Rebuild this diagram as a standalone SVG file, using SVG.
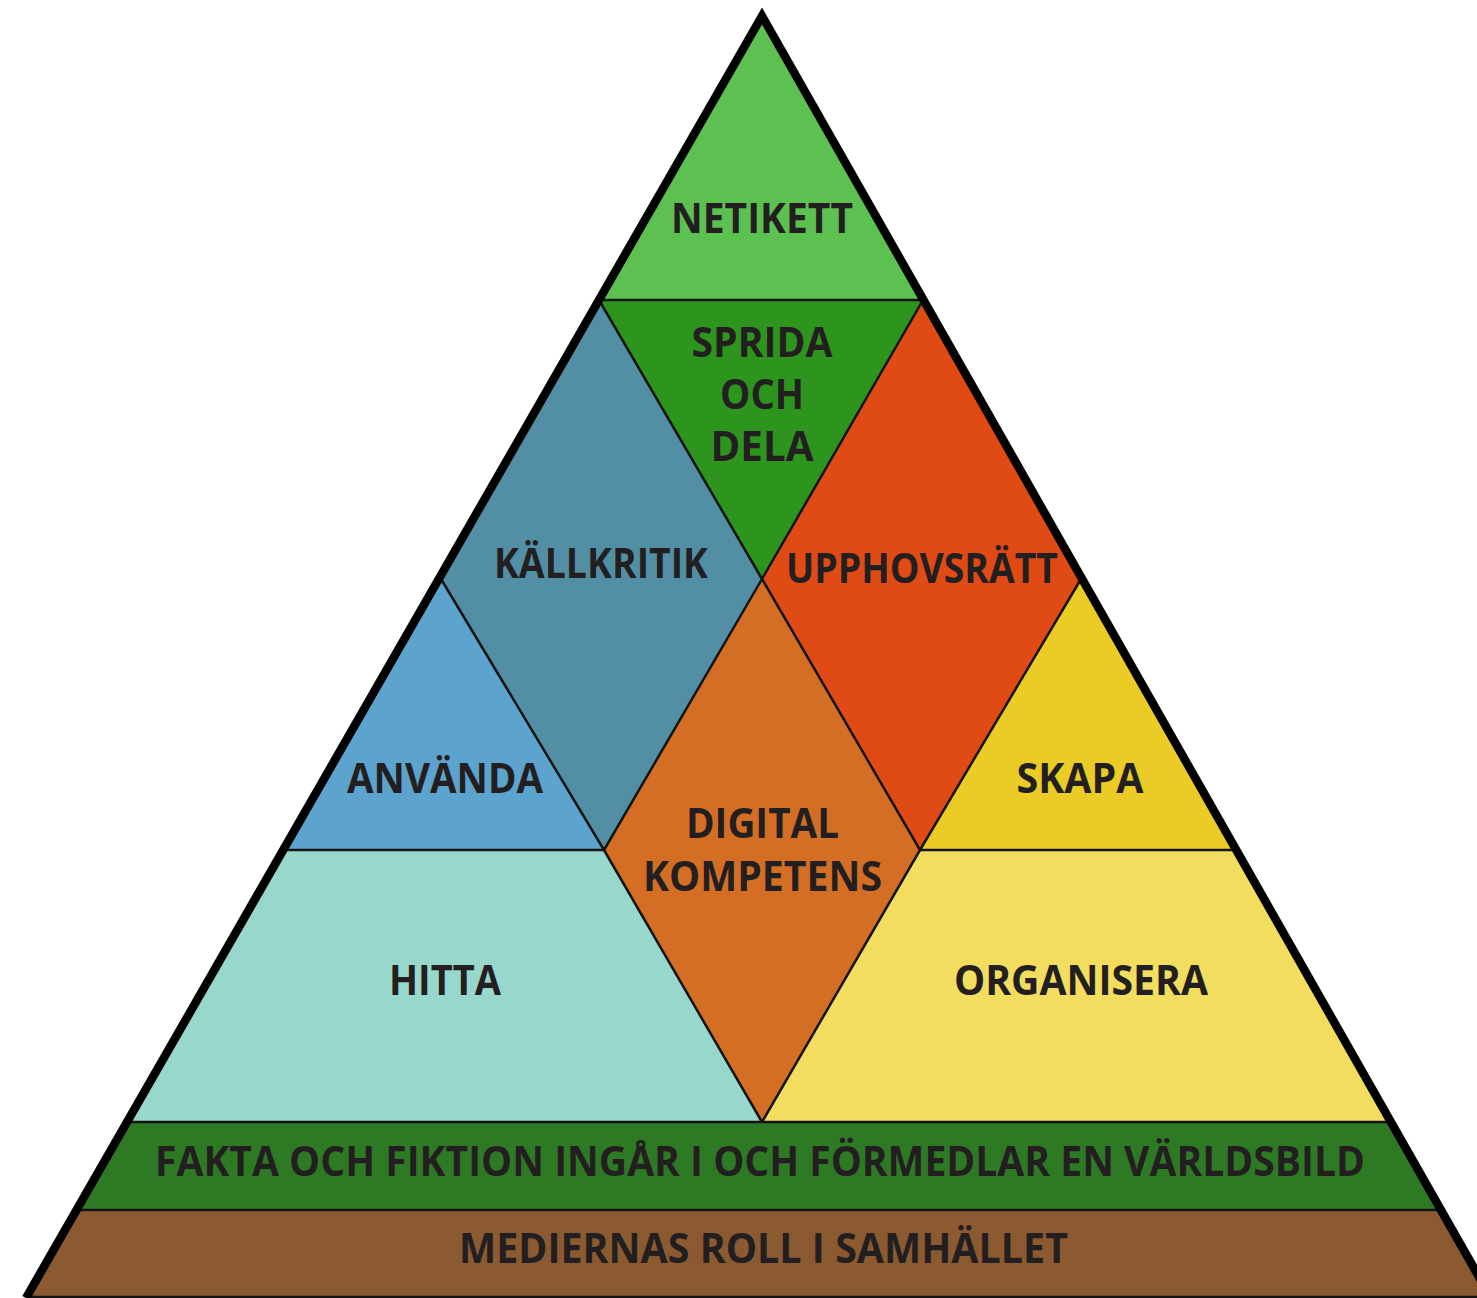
<svg xmlns="http://www.w3.org/2000/svg" width="1477" height="1298" viewBox="0 0 1477 1298">
<style>
.t{font-family:"Open Sans","Noto Sans","Liberation Sans",sans-serif;font-weight:bold;font-size:42px;fill:#231F20;text-anchor:middle;}
.ln{fill:none;stroke:#141414;stroke-width:2.5;stroke-linejoin:miter;}
.outer{fill:none;stroke:#000;stroke-width:8.5;stroke-linejoin:miter;stroke-miterlimit:10;}
</style>
<rect width="1477" height="1298" fill="#ffffff"/>
<g id="netikett">
<polygon points="762,16 599,300 923,300" fill="#5DC152"/>
<text class="t" x="762" y="233" textLength="182" lengthAdjust="spacingAndGlyphs">NETIKETT</text>
</g>
<g id="sprida">
<polygon points="599,300 923,300 762,579" fill="#2D951E"/>
<text class="t" x="762" y="357" textLength="141" lengthAdjust="spacingAndGlyphs">SPRIDA</text>
<text class="t" x="762" y="409" textLength="84" lengthAdjust="spacingAndGlyphs">OCH</text>
<text class="t" x="762" y="461" textLength="103" lengthAdjust="spacingAndGlyphs">DELA</text>
</g>
<g id="kallkritik">
<polygon points="599,300 762,579 604,850 441,579" fill="#528FA5"/>
<text class="t" x="601" y="578" textLength="214" lengthAdjust="spacingAndGlyphs">KÄLLKRITIK</text>
</g>
<g id="upphovsratt">
<polygon points="923,300 1081,579 920,850 762,579" fill="#E04B15"/>
<text class="t" x="922" y="583" textLength="272" lengthAdjust="spacingAndGlyphs">UPPHOVSRÄTT</text>
</g>
<g id="anvanda">
<polygon points="441,579 604,850 283,850" fill="#5CA4CE"/>
<text class="t" x="445" y="793" textLength="196" lengthAdjust="spacingAndGlyphs">ANVÄNDA</text>
</g>
<g id="skapa">
<polygon points="1081,579 1236,850 920,850" fill="#EBCB26"/>
<text class="t" x="1080" y="793" textLength="127" lengthAdjust="spacingAndGlyphs">SKAPA</text>
</g>
<g id="digital">
<polygon points="762,579 920,850 762,1122 604,850" fill="#D46E25"/>
<text class="t" x="762.5" y="838" textLength="153" lengthAdjust="spacingAndGlyphs">DIGITAL</text>
<text class="t" x="762.5" y="891" textLength="239" lengthAdjust="spacingAndGlyphs">KOMPETENS</text>
</g>
<g id="hitta">
<polygon points="283,850 604,850 762,1122 127,1122" fill="#98D7CB"/>
<text class="t" x="445" y="995" textLength="112" lengthAdjust="spacingAndGlyphs">HITTA</text>
</g>
<g id="organisera">
<polygon points="920,850 1236,850 1391,1122 762,1122" fill="#F2DD5E"/>
<text class="t" x="1081" y="995" textLength="254" lengthAdjust="spacingAndGlyphs">ORGANISERA</text>
</g>
<g id="fakta">
<polygon points="127,1122 1391,1122 1441,1210 76,1210" fill="#2E7A24"/>
<text class="t" x="760" y="1176" textLength="1210" lengthAdjust="spacingAndGlyphs">FAKTA OCH FIKTION INGÅR I OCH FÖRMEDLAR EN VÄRLDSBILD</text>
</g>
<g id="medier">
<polygon points="76,1210 1441,1210 1491,1298 26,1298" fill="#8B5A31"/>
<text class="t" x="763.5" y="1263" textLength="609" lengthAdjust="spacingAndGlyphs">MEDIERNAS ROLL I SAMHÄLLET</text>
</g>
<g id="connectors">
<path class="ln" d="M599,300 L762,579 L920,850"/>
<path class="ln" d="M923,300 L762,579 L604,850"/>
<path class="ln" d="M441,579 L604,850 L762,1122"/>
<path class="ln" d="M1081,579 L920,850 L762,1122"/>
<path class="ln" d="M599,300 L923,300"/>
<path class="ln" d="M283,850 L604,850 M920,850 L1236,850"/>
<path class="ln" d="M127,1122 L1391,1122"/>
<path class="ln" d="M76,1210 L1441,1210"/>
<path class="ln" d="M26,1297 L1491,1297"/>
<path class="outer" d="M26,1298 L762,16 L1491,1298"/>
</g>
</svg>
